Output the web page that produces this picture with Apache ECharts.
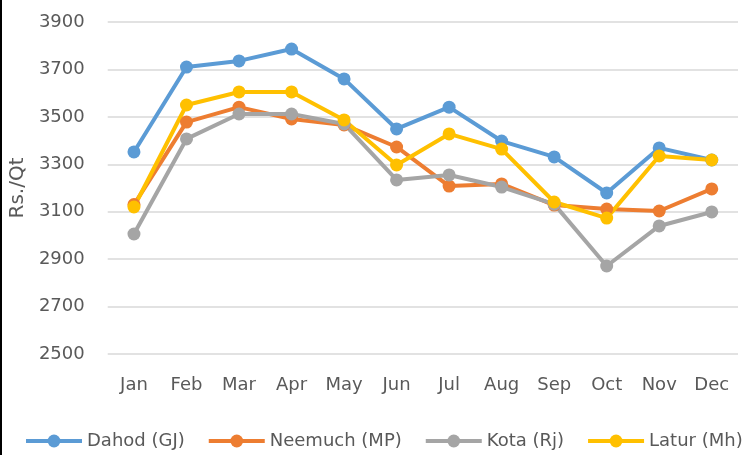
<!DOCTYPE html>
<html><head><meta charset="utf-8">
<script src="https://cdn.jsdelivr.net/npm/echarts@6/dist/echarts.min.js"></script>
<style>html,body{margin:0;padding:0;background:#fff}#c{width:746px;height:455px}</style>
</head><body><div id="c"></div>
<script>
var months = ['Jan','Feb','Mar','Apr','May','Jun','Jul','Aug','Sep','Oct','Nov','Dec'];
var dahod   = [3352,3710,3736,3786,3660,3449,3541,3398,3331,3179,3369,3318];
var neemuch = [3130,3478,3541,3491,3466,3373,3208,3217,3128,3111,3103,3196];
var kota    = [3006,3407,3512,3512,3470,3234,3255,3204,3132,2871,3040,3099];
var latur   = [3120,3550,3605,3605,3487,3297,3428,3364,3141,3073,3335,3318];
var seriesNames = ['Dahod (GJ)','Neemuch (MP)','Kota (Rj)','Latur (Mh)'];
var colors = ['#5B9BD5','#ED7D31','#A5A5A5','#FFC000'];
var font = '"DejaVu Sans", sans-serif';
function mk(name, data, color){
  return {name:name, type:'line', data:data, symbol:'circle', symbolSize:13,
    lineStyle:{width:4,color:color}, itemStyle:{color:color}, emphasis:{disabled:true}};
}
var chart = echarts.init(document.getElementById('c'));
chart.setOption({
  animation:false,
  backgroundColor:'#fff',
  grid:{left:106,right:8,top:22,bottom:101,containLabel:false},
  xAxis:{type:'category',data:months,boundaryGap:true,
    axisLine:{show:false},axisTick:{show:false},
    axisLabel:{color:'#595959',fontSize:18,fontFamily:font,margin:22}},
  yAxis:{type:'value',min:2500,max:3900,interval:200,
    name:'Rs./Qt',nameLocation:'middle',nameGap:71,nameRotate:90,
    nameTextStyle:{color:'#595959',fontSize:20,fontFamily:font},
    axisLine:{show:false},axisTick:{show:false},
    splitLine:{lineStyle:{color:'#d9d9d9',width:1.5}},
    axisLabel:{color:'#595959',fontSize:18,fontFamily:font,margin:23,
      formatter:function(v){return String(v);}}},
  legend:{bottom:5,left:24,width:722,padding:0,itemWidth:56,itemHeight:16,itemGap:22,
    textStyle:{color:'#595959',fontSize:18,fontFamily:font},
    lineStyle:{width:4},
    data:seriesNames},
  series:[mk(seriesNames[0],dahod,colors[0]),mk(seriesNames[1],neemuch,colors[1]),
          mk(seriesNames[2],kota,colors[2]),mk(seriesNames[3],latur,colors[3])],
  graphic:[{type:'rect',shape:{x:0,y:0,width:2,height:455},style:{fill:'#000'},silent:true}]
});
</script></body></html>
